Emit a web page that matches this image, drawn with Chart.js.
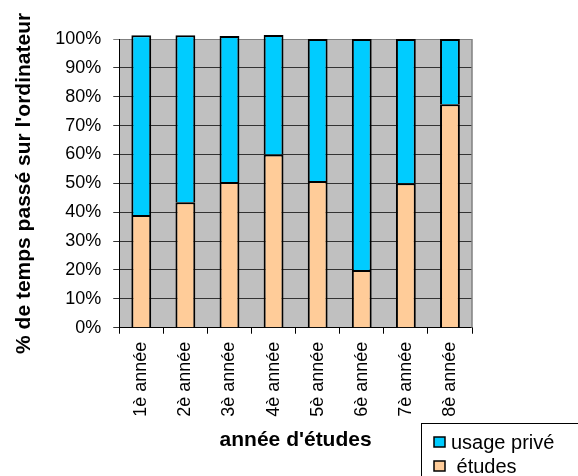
<!DOCTYPE html>
<html>
<head>
<meta charset="utf-8">
<script src="https://cdn.jsdelivr.net/npm/chart.js@4.4.0/dist/chart.umd.min.js"></script>
<style>
    body { margin: 0; background: #fff; }
    #wrap { width: 578px; height: 476px; }
</style>
</head>
<body>
<div id="wrap"><canvas id="chartEtudes" width="578" height="476"></canvas></div>
<script>
const categories = ["1è année", "2è année", "3è année", "4è année", "5è année", "6è année", "7è année", "8è année"];
const etudes = [39, 43.5, 50.5, 60, 50.8, 20, 50, 77.4];
const usagePrive = [62.3, 57.8, 50.5, 41.4, 49.2, 80, 50, 22.6];
const yTicks = [0, 10, 20, 30, 40, 50, 60, 70, 80, 90, 100];

const FONT = "'Liberation Sans', Arial, sans-serif";

// fond gris + bordure droite de la zone de tracé
const plotBackground = {
    id: "plotBackground",
    beforeDraw(chart) {
        const { ctx, chartArea: a } = chart;
        ctx.save();
        ctx.fillStyle = "#c0c0c0";
        ctx.fillRect(a.left, a.top, a.right - a.left, a.bottom - a.top);
        ctx.restore();
    },
    afterDraw(chart) {
        const { ctx, chartArea: a } = chart;
        ctx.save();
        ctx.strokeStyle = "#808080";
        ctx.lineWidth = 1.5;
        ctx.beginPath();
        ctx.moveTo(a.right, a.top);
        ctx.lineTo(a.right, a.bottom);
        ctx.stroke();
        ctx.restore();
    },
};

// légende encadrée en bas à droite
const boxLegend = {
    id: "boxLegend",
    afterDraw(chart) {
        const { ctx } = chart;
        const items = [chart.data.datasets[1], chart.data.datasets[0]];
        ctx.save();
        ctx.fillStyle = "#fff";
        ctx.strokeStyle = "#000";
        ctx.lineWidth = 1;
        ctx.fillRect(421.5, 423.5, 170, 70);
        ctx.strokeRect(421.5, 423.5, 170, 70);
        ctx.font = "20px " + FONT;
        ctx.textBaseline = "middle";
        items.forEach((ds, i) => {
            const y = 442 + i * 24;
            ctx.fillStyle = ds.backgroundColor;
            ctx.fillRect(434, y - 5, 11, 10);
            ctx.lineWidth = 1.5;
            ctx.strokeRect(434, y - 5, 11, 10);
            ctx.fillStyle = "#000";
            ctx.fillText((i === 1 ? " " : "") + ds.label, 451, y + 1);
        });
        ctx.restore();
    },
};

new Chart(document.getElementById("chartEtudes"), {
    type: "bar",
    data: {
        labels: categories,
        datasets: [
            {
                label: "études",
                data: etudes,
                backgroundColor: "#ffcc99",
                borderColor: "#000",
                borderWidth: 2,
                clip: false,
            },
            {
                label: "usage privé",
                data: usagePrive,
                backgroundColor: "#00ccff",
                borderColor: "#000",
                borderWidth: 2,
                clip: false,
            },
        ],
    },
    options: {
        responsive: false,
        animation: false,
        devicePixelRatio: 1,
        layout: { padding: { left: 0, top: 39, right: 106, bottom: 23 } },
        datasets: { bar: { categoryPercentage: 1, barPercentage: 0.45 } },
        plugins: {
            legend: { display: false },
            tooltip: { enabled: false },
        },
        scales: {
            x: {
                stacked: true,
                grid: {
                    offset: true,
                    drawOnChartArea: false,
                    drawTicks: true,
                    tickLength: 6,
                    color: "#000",
                },
                border: { color: "#000", width: 1 },
                ticks: {
                    minRotation: 90,
                    maxRotation: 90,
                    padding: 8,
                    color: "#000",
                    font: { family: FONT, size: 18 },
                },
                title: {
                    display: true,
                    text: "année d'études",
                    color: "#000",
                    padding: { top: 3, bottom: 0 },
                    font: { family: FONT, size: 21, weight: "bold" },
                },
            },
            y: {
                stacked: true,
                min: 0,
                max: 100,
                afterBuildTicks(scale) {
                    scale.ticks = yTicks.map((v) => ({ value: v }));
                },
                grid: {
                    tickLength: 6,
                    color: (c) => (c.tick && c.tick.value === 100 ? "#808080" : "#333"),
                },
                border: { color: "#000", width: 1 },
                ticks: {
                    padding: 12,
                    color: "#000",
                    font: { family: FONT, size: 18 },
                    callback: (v) => v + "%",
                },
                title: {
                    display: true,
                    text: "% de temps passé sur l'ordinateur",
                    color: "#000",
                    padding: { top: 12, bottom: 6 },
                    font: { family: FONT, size: 21, weight: "bold" },
                },
            },
        },
    },
    plugins: [plotBackground, boxLegend],
});
</script>
</body>
</html>
